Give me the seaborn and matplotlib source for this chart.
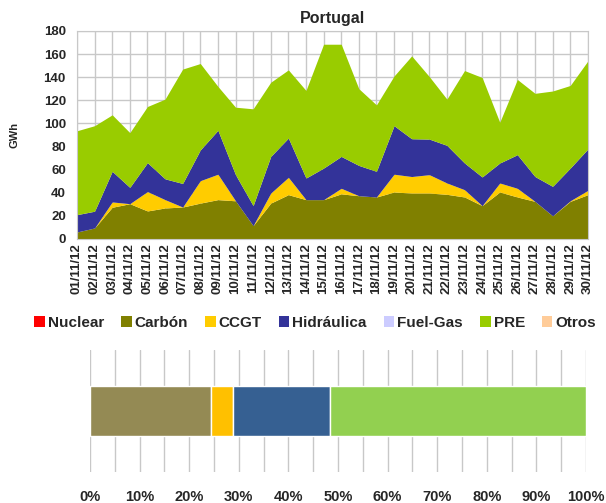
import numpy as np
import pandas as pd
import seaborn as sns
import matplotlib
matplotlib.use("Agg")
import matplotlib.pyplot as plt
from matplotlib.patches import Patch
from matplotlib.ticker import MultipleLocator, PercentFormatter

# daily generation, GWh
dates = [f"{d:02d}/11/12" for d in range(1, 31)]
carbon = [6.0, 9.5, 27.4, 30.5, 24.2, 26.8, 27.6, 31.0, 34.0, 33.0,
          11.5, 31.0, 38.3, 34.0, 34.0, 39.0, 37.4, 36.3, 40.6, 39.7,
          39.7, 38.6, 36.3, 28.8, 40.6, 36.3, 32.5, 20.0, 32.5, 38.3]
ccgt = [0.0, 0.0, 4.6, 0.0, 16.8, 7.2, 0.0, 19.4, 22.0, 0.0,
        0.0, 8.7, 15.0, 0.0, 0.0, 4.8, 0.0, 0.0, 15.4, 14.3,
        15.9, 9.8, 6.3, 0.0, 7.8, 7.5, 0.0, 0.0, 0.5, 3.7]
hidraulica = [15.0, 14.5, 26.5, 14.1, 25.0, 18.0, 20.4, 26.6, 38.0, 22.6,
              17.3, 31.7, 34.0, 18.7, 27.3, 27.6, 26.2, 22.2, 42.0, 32.7,
              30.8, 32.6, 23.1, 24.8, 17.3, 29.1, 21.5, 25.5, 28.3, 35.8]
pre = [72.6, 74.0, 48.9, 47.4, 48.6, 69.0, 99.0, 74.8, 38.0, 58.4,
       83.8, 64.2, 59.0, 75.8, 107.2, 97.1, 66.4, 57.5, 43.0, 71.7,
       54.1, 40.0, 80.0, 86.1, 35.3, 65.1, 72.0, 82.5, 71.5, 76.2]
zeros = [0.0] * 30

# monthly share, %
share_labels = ["Carbón", "CCGT", "Hidráulica", "PRE"]
share_values = [24.3, 4.5, 19.5, 51.7]

legend_labels = ["Nuclear", "Carbón", "CCGT", "Hidráulica", "Fuel-Gas", "PRE", "Otros"]
legend_colors = ["#FF0000", "#808000", "#FFCC00", "#333399", "#CCCCFF", "#99CC00", "#FFCC99"]
share_colors = ["#948A54", "#FFC000", "#366092", "#92D050"]

df = pd.DataFrame({
    "fecha": dates, "Nuclear": zeros, "Carbón": carbon, "CCGT": ccgt,
    "Hidráulica": hidraulica, "Fuel-Gas": zeros, "PRE": pre, "Otros": zeros,
})

sns.set_style("white")
plt.rcParams["font.family"] = ["Liberation Sans", "DejaVu Sans"]
plt.rcParams["font.weight"] = "bold"

fig = plt.figure(figsize=(6.06, 5.03), dpi=100)

# top: stacked area
ax = fig.add_axes([0.127, 0.525, 0.843, 0.4135])
x = np.arange(len(df))
ax.stackplot(x, [df[c] for c in legend_labels], colors=legend_colors, linewidth=0)
ax.set_xlim(0, len(df) - 1)
ax.set_ylim(0, 180)
ax.yaxis.set_major_locator(MultipleLocator(20))
ax.set_xticks(x)
ax.set_xticklabels(df["fecha"], rotation=90, fontsize=9.5, fontweight="bold")
ax.tick_params(axis="y", labelsize=9.5, length=0, pad=8)
ax.tick_params(axis="x", length=0, pad=3)
for t in ax.get_yticklabels():
    t.set_fontweight("bold")
ax.grid(True, color="#C8C8C8", linewidth=1)
ax.set_axisbelow(True)
for s in ax.spines.values():
    s.set_color("#C8C8C8")
ax.set_ylabel("GWh", fontsize=8, fontweight="bold", labelpad=17)
ax.set_title("Portugal", fontsize=11.5, fontweight="bold", pad=6)

handles = [Patch(facecolor=c, edgecolor="none") for c in legend_colors]
fig.legend(handles, legend_labels, loc="center", bbox_to_anchor=(0.52, 0.358),
           ncol=7, frameon=False, handlelength=0.7, handleheight=0.7,
           handletextpad=0.2, columnspacing=1.1,
           prop={"size": 11, "weight": "bold"})

# bottom: 100% bar
bx = fig.add_axes([0.1485, 0.0616, 0.8185, 0.2425])
left = 0
for lab, val, col in zip(share_labels, share_values, share_colors):
    bx.barh(0, val, left=left, height=0.82, color=col, label=lab, zorder=2)
    left += val
bx.set_xlim(0, 100)
bx.set_ylim(-1, 1)
bx.set_yticks([])
bx.xaxis.set_major_locator(MultipleLocator(10))
bx.xaxis.set_minor_locator(MultipleLocator(5))
bx.xaxis.set_major_formatter(PercentFormatter(decimals=0))
bx.grid(True, which="both", axis="x", color="#C8C8C8", linewidth=1, zorder=0)
bx.tick_params(axis="x", length=0, labelsize=10.5, pad=13)
for t in bx.get_xticklabels():
    t.set_fontweight("bold")
sns.despine(ax=bx, left=True, bottom=True)

fig.savefig("out.png", dpi=100)
